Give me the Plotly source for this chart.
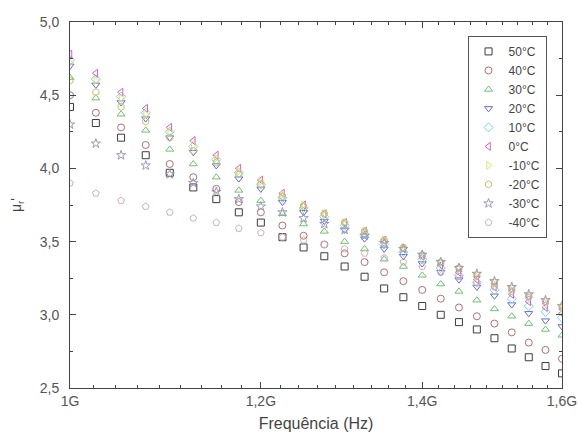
import numpy as np
import plotly.graph_objects as go

freq_ghz = [1.000, 1.025, 1.050, 1.075, 1.100, 1.125, 1.150, 1.175, 1.200, 1.225,
            1.250, 1.275, 1.300, 1.325, 1.350, 1.375, 1.400, 1.425, 1.450, 1.475,
            1.500, 1.525, 1.550, 1.575, 1.600]

labels = ["50°C", "40°C", "30°C", "20°C", "10°C", "0°C", "-10°C", "-20°C", "-30°C", "-40°C"]

t50 = [4.42, 4.31, 4.21, 4.09, 3.97, 3.87, 3.79, 3.70, 3.63, 3.53, 3.46, 3.40, 3.33, 3.26, 3.18, 3.12, 3.06, 3.00, 2.95, 2.90, 2.84, 2.77, 2.71, 2.65, 2.60]
t40 = [4.50, 4.38, 4.28, 4.16, 4.03, 3.94, 3.86, 3.77, 3.70, 3.61, 3.54, 3.48, 3.42, 3.36, 3.29, 3.23, 3.17, 3.11, 3.05, 2.99, 2.94, 2.88, 2.81, 2.76, 2.70]
t30 = [4.62, 4.48, 4.37, 4.26, 4.13, 4.03, 3.94, 3.85, 3.78, 3.69, 3.62, 3.57, 3.50, 3.45, 3.38, 3.33, 3.27, 3.21, 3.16, 3.10, 3.04, 2.99, 2.94, 2.90, 2.86]
t20 = [4.70, 4.57, 4.45, 4.34, 4.21, 4.11, 4.02, 3.93, 3.86, 3.77, 3.70, 3.64, 3.58, 3.52, 3.45, 3.40, 3.35, 3.29, 3.24, 3.19, 3.13, 3.07, 3.01, 2.96, 2.92]
t10 = [4.74, 4.61, 4.49, 4.38, 4.25, 4.15, 4.06, 3.97, 3.89, 3.80, 3.73, 3.67, 3.61, 3.55, 3.48, 3.43, 3.38, 3.32, 3.27, 3.22, 3.17, 3.11, 3.06, 3.02, 2.98]
t0 = [4.78, 4.65, 4.52, 4.41, 4.28, 4.19, 4.09, 4.00, 3.92, 3.83, 3.75, 3.69, 3.63, 3.57, 3.51, 3.45, 3.40, 3.34, 3.29, 3.24, 3.19, 3.14, 3.09, 3.05, 3.01]
tm10 = [4.72, 4.60, 4.48, 4.37, 4.25, 4.16, 4.07, 3.98, 3.91, 3.82, 3.75, 3.69, 3.63, 3.57, 3.51, 3.46, 3.40, 3.35, 3.31, 3.26, 3.21, 3.17, 3.12, 3.08, 3.04]
tm20 = [4.60, 4.52, 4.42, 4.32, 4.21, 4.12, 4.04, 3.96, 3.89, 3.81, 3.74, 3.69, 3.63, 3.57, 3.51, 3.46, 3.41, 3.36, 3.32, 3.27, 3.22, 3.18, 3.13, 3.09, 3.05]
tm30 = [4.30, 4.17, 4.09, 4.02, 3.96, 3.90, 3.84, 3.79, 3.74, 3.70, 3.66, 3.62, 3.58, 3.54, 3.49, 3.45, 3.41, 3.36, 3.32, 3.28, 3.23, 3.19, 3.14, 3.10, 3.06]
tm40 = [3.90, 3.83, 3.78, 3.74, 3.70, 3.66, 3.63, 3.59, 3.56, 3.53, 3.51, 3.48, 3.45, 3.42, 3.39, 3.36, 3.33, 3.29, 3.26, 3.22, 3.19, 3.16, 3.12, 3.09, 3.06]

x_ticks_ghz = [1.0, 1.2, 1.4, 1.6]
x_tick_text = ["1G", "1,2G", "1,4G", "1,6G"]

series = [t50, t40, t30, t20, t10, t0, tm10, tm20, tm30, tm40]
symbols = ["square-open", "circle-open", "triangle-up-open", "triangle-down-open",
           "diamond-open", "triangle-left-open", "triangle-right-open",
           "hexagon-open", "star-open", "pentagon-open"]
colors = ["#3c3c3c", "#b07070", "#70c070", "#6a6ad0", "#70d8e8", "#d060c8",
          "#e4e070", "#c8c070", "#9a9ab8", "#d0b0b8"]

x_hz = [f * 1e9 for f in freq_ghz]

fig = go.Figure()
for lab, ys, sym, col in zip(labels, series, symbols, colors):
    fig.add_trace(go.Scatter(
        x=x_hz, y=ys, mode="markers", name=lab,
        marker=dict(symbol=sym, size=7, color=col, line=dict(width=1, color=col)),
    ))

font_family = "Liberation Sans, Arial, sans-serif"
tick_font = dict(family=font_family, size=14, color="#555555")

minor_x = [1e9 + k * 0.2e9 / 9 for k in range(1, 27) if k % 9 != 0]

fig.update_layout(
    width=578, height=441,
    margin=dict(l=70, r=16, t=22, b=53, autoexpand=False),
    paper_bgcolor="white", plot_bgcolor="white",
    separators=",.",
    font=dict(family=font_family, size=12, color="#444444"),
    showlegend=True,
    legend=dict(
        x=0.808, y=0.962, xanchor="left", yanchor="top",
        bordercolor="#555555", borderwidth=1, bgcolor="white",
        font=dict(family=font_family, size=12, color="#444444"),
        itemwidth=30, tracegroupgap=0,
    ),
    xaxis=dict(
        type="log", range=[np.log10(1e9), np.log10(1.6e9)],
        tickvals=[v * 1e9 for v in x_ticks_ghz],
        ticktext=x_tick_text, automargin=False,
        ticks="inside", ticklen=6, tickcolor="#444444",
        showline=True, linecolor="#444444", linewidth=1, mirror="ticks",
        showgrid=False, zeroline=False,
        tickfont=tick_font,
        minor=dict(tickvals=minor_x, ticks="inside", ticklen=3, tickcolor="#444444", showgrid=False),
        title=dict(text="Frequência (Hz)", font=dict(family=font_family, size=16, color="#444444"), standoff=10),
    ),
    yaxis=dict(
        range=[2.5, 5.0], dtick=0.5, tick0=2.5, tickformat=".1f",
        ticks="inside", ticklen=6, tickcolor="#444444", automargin=False,
        showline=True, linecolor="#444444", linewidth=1, mirror="ticks",
        showgrid=False, zeroline=False,
        tickfont=tick_font, ticklabelstandoff=7,
        minor=dict(dtick=0.25, ticks="inside", ticklen=3, tickcolor="#444444", showgrid=False),
        title=dict(text="μ<sub>r</sub>'", font=dict(family=font_family, size=14, color="#444444"), standoff=14),
    ),
)

fig.write_html("out.html", config={"displayModeBar": False},
               post_script="document.body.style.margin='0';")
